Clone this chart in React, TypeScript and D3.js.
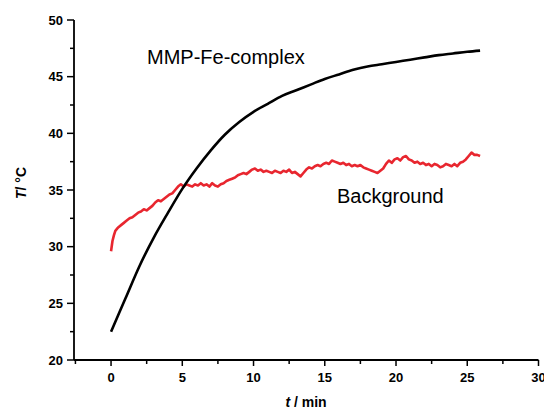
import React from "react";
import * as d3 from "d3";

const blackT = [0, 1, 2, 3, 4, 5, 6, 7, 8, 9, 10, 11, 12, 13, 14, 15, 16, 17, 18, 19, 20, 21, 22, 23, 24, 25, 25.9];
const blackV = [22.5, 25.4, 28.3, 30.8, 33.0, 35.1, 36.9, 38.5, 39.9, 41.0, 41.9, 42.6, 43.3, 43.8, 44.3, 44.8, 45.2, 45.6, 45.9, 46.1, 46.3, 46.5, 46.7, 46.9, 47.05, 47.2, 47.3];

const redT = [0, 0.1, 0.2, 0.3, 0.5, 0.7, 0.9, 1.1, 1.3, 1.5, 1.7, 1.9, 2.1, 2.3, 2.5, 2.7, 2.9, 3.1, 3.3, 3.5, 3.7, 3.9, 4.1, 4.3, 4.5, 4.7, 4.9, 5.1, 5.3, 5.5, 5.7, 5.9, 6.1, 6.3, 6.5, 6.7, 6.9, 7.1, 7.3, 7.5, 7.7, 7.9, 8.1, 8.3, 8.5, 8.7, 8.9, 9.1, 9.3, 9.5, 9.7, 9.9, 10.1, 10.3, 10.5, 10.7, 10.9, 11.1, 11.3, 11.5, 11.7, 11.9, 12.1, 12.3, 12.5, 12.7, 12.9, 13.1, 13.3, 13.5, 13.7, 13.9, 14.1, 14.3, 14.5, 14.7, 14.9, 15.1, 15.3, 15.5, 15.7, 15.9, 16.1, 16.3, 16.5, 16.7, 16.9, 17.1, 17.3, 17.5, 17.7, 17.9, 18.1, 18.3, 18.5, 18.7, 18.9, 19.1, 19.3, 19.5, 19.7, 19.9, 20.1, 20.3, 20.5, 20.7, 20.9, 21.1, 21.3, 21.5, 21.7, 21.9, 22.1, 22.3, 22.5, 22.7, 22.9, 23.1, 23.3, 23.5, 23.7, 23.9, 24.1, 24.3, 24.5, 24.7, 24.9, 25.1, 25.3, 25.5, 25.7, 25.9];
const redV = [29.6, 30.5, 31.0, 31.4, 31.7, 31.9, 32.1, 32.3, 32.5, 32.6, 32.8, 33.0, 33.1, 33.3, 33.2, 33.4, 33.6, 33.9, 34.1, 34.0, 34.2, 34.4, 34.6, 34.7, 35.0, 35.3, 35.5, 35.3, 35.5, 35.4, 35.3, 35.5, 35.4, 35.6, 35.4, 35.5, 35.3, 35.6, 35.4, 35.3, 35.5, 35.6, 35.8, 35.9, 36.0, 36.1, 36.3, 36.4, 36.5, 36.4, 36.6, 36.8, 36.9, 36.7, 36.8, 36.6, 36.7, 36.6, 36.5, 36.7, 36.6, 36.5, 36.7, 36.6, 36.8, 36.5, 36.6, 36.4, 36.2, 36.5, 36.8, 37.0, 36.9, 37.1, 37.2, 37.1, 37.3, 37.4, 37.3, 37.6, 37.5, 37.4, 37.3, 37.4, 37.2, 37.3, 37.1, 37.2, 37.1, 37.2, 37.0, 36.9, 36.8, 36.7, 36.6, 36.5, 36.7, 36.9, 37.3, 37.6, 37.4, 37.7, 37.8, 37.6, 37.9, 38.0, 37.7, 37.6, 37.4, 37.5, 37.3, 37.4, 37.2, 37.3, 37.1, 37.3, 37.2, 37.0, 37.1, 37.3, 37.2, 37.1, 37.3, 37.1, 37.4, 37.5, 37.7, 38.0, 38.3, 38.1, 38.1, 38.0];

const xTicks = [0, 5, 10, 15, 20, 25, 30];
const xMinor = [-2.5, 2.5, 7.5, 12.5, 17.5, 22.5, 27.5];
const yTicks = [20, 25, 30, 35, 40, 45, 50];
const yMinor = [22.5, 27.5, 32.5, 37.5, 42.5, 47.5];

export default function App() {
  const x = d3.scaleLinear().domain([-2.6, 30]).range([74, 538.5]);
  const y = d3.scaleLinear().domain([20, 50]).range([360, 20]);
  const line = d3
    .line<[number, number]>()
    .x((d) => x(d[0]))
    .y((d) => y(d[1]));
  const smooth = d3
    .line<[number, number]>()
    .x((d) => x(d[0]))
    .y((d) => y(d[1]))
    .curve(d3.curveMonotoneX);
  const black = blackT.map((t, i) => [t, blackV[i]] as [number, number]);
  const red = redT.map((t, i) => [t, redV[i]] as [number, number]);
  const font = "Liberation Sans, Arial, sans-serif";
  return (
    <svg
      width={544}
      height={411}
      style={{ position: "absolute", left: 0, top: 0, background: "#fff" }}
      fontFamily={font}
    >
      <rect width={544} height={411} fill="#fff" />
      <line x1={x.range()[0]} x2={x.range()[1]} y1={360} y2={360} stroke="#000" strokeWidth={1.8} />
      <line x1={74} x2={74} y1={y(50)} y2={y(20)} stroke="#000" strokeWidth={1.8} />
      {xTicks.map((t) => (
        <g key={"xt" + t}>
          <line x1={x(t)} x2={x(t)} y1={360} y2={366} stroke="#000" strokeWidth={1.5} />
          <text x={x(t)} y={382} textAnchor="middle" fontSize={13} fontWeight="bold">
            {t}
          </text>
        </g>
      ))}
      {xMinor.map((t) => (
        <line key={"xm" + t} x1={x(t)} x2={x(t)} y1={360} y2={364} stroke="#000" strokeWidth={1.5} />
      ))}
      {yTicks.map((v) => (
        <g key={"yt" + v}>
          <line x1={67} x2={74} y1={y(v)} y2={y(v)} stroke="#000" strokeWidth={1.5} />
          <text x={63} y={y(v) + 4.5} textAnchor="end" fontSize={13} fontWeight="bold">
            {v}
          </text>
        </g>
      ))}
      {yMinor.map((v) => (
        <line key={"ym" + v} x1={70} x2={74} y1={y(v)} y2={y(v)} stroke="#000" strokeWidth={1.5} />
      ))}
      <path d={line(red) || ""} fill="none" stroke="#e8262f" strokeWidth={2.6} strokeLinejoin="round" />
      <path d={smooth(black) || ""} fill="none" stroke="#000" strokeWidth={2.6} strokeLinejoin="round" />
      <text x={147} y={64} fontSize={20}>MMP-Fe-complex</text>
      <text x={337} y={203} fontSize={20}>Background</text>
      <text x={306} y={407} textAnchor="middle" fontSize={14} fontWeight="bold">
        <tspan fontStyle="italic">t</tspan> / min
      </text>
      <text
        transform="translate(26,183) rotate(-90)"
        textAnchor="middle"
        fontSize={14}
        fontWeight="bold"
      >
        <tspan fontStyle="italic">T</tspan>/ °C
      </text>
    </svg>
  );
}
